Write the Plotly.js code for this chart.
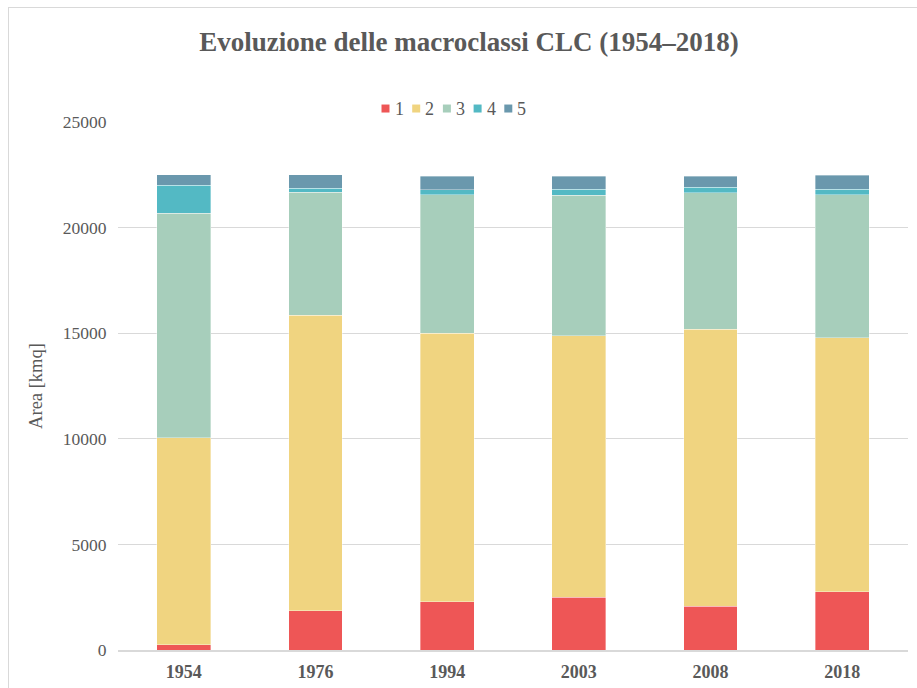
<!DOCTYPE html>
<html>
<head>
<meta charset="utf-8">
<script src="https://cdn.plot.ly/plotly-3.0.1.min.js"></script>
<style>
  html, body { margin: 0; padding: 0; overflow: hidden; background: #ffffff; width: 917px; height: 688px; }
  #frame { position: absolute; left: 8px; top: 7px; width: 920px; height: 700px; border-left: 1px solid #d9d9d9; border-top: 1px solid #d9d9d9; }
  #chart { width: 920px; height: 700px; }
</style>
</head>
<body>
<div id="frame"><div id="chart"></div></div>
<script>
const years = ["1954", "1976", "1994", "2003", "2008", "2018"];
const seriesNames = ["1", "2", "3", "4", "5"];
const class1 = [250, 1870, 2280, 2500, 2080, 2760];
const class2 = [9800, 13970, 12710, 12380, 13100, 12020];
const class3 = [10640, 5830, 6570, 6660, 6460, 6780];
const class4 = [1310, 200, 240, 270, 260, 260];
const class5 = [505, 625, 624, 614, 524, 666];
const colors = ["#EE5656", "#F0D480", "#A7CEBB", "#53B9C4", "#6A98AD"];

const values = [class1, class2, class3, class4, class5];
const traces = values.map((v, i) => ({
  type: "bar",
  name: seriesNames[i],
  x: years,
  y: v,
  marker: { color: colors[i], line: { color: "rgba(255,255,255,0.6)", width: 0.6 } },
  hoverinfo: "skip",
  showlegend: false
}));

const grey = "#595959";
// plot area geometry (px inside the chart div)
const W = 920, H = 700;
const M = { l: 109, r: 21, t: 113.5, b: 57.5 };
const pw = W - M.l - M.r, ph = H - M.t - M.b;
const toPX = px => (px - M.l) / pw;
const toPY = py => 1 - (py - M.t) / ph;

// custom compact legend (squares + labels), as in the reference
const legStart = 376.5, legStep = 30.7, legY = 100, sq = 8;
const shapes = [], annotations = [];
seriesNames.forEach((n, i) => {
  const cx = legStart + legStep * i;
  shapes.push({
    type: "rect", xref: "paper", yref: "paper",
    x0: toPX(cx - sq / 2), x1: toPX(cx + sq / 2),
    y0: toPY(legY + sq / 2), y1: toPY(legY - sq / 2),
    fillcolor: colors[i], line: { width: 0 }
  });
  annotations.push({
    text: n, xref: "paper", yref: "paper",
    x: toPX(cx + sq / 2 + 3), xanchor: "left",
    y: toPY(legY), yanchor: "middle",
    showarrow: false,
    font: { family: "Liberation Serif", size: 18, color: grey }
  });
});

const layout = {
  width: W,
  height: H,
  barmode: "stack",
  bargap: 0.59,
  paper_bgcolor: "#ffffff",
  plot_bgcolor: "#ffffff",
  margin: M,
  title: {
    text: "<b>Evoluzione delle macroclassi CLC (1954–2018)</b>",
    font: { family: "Liberation Serif", size: 27, color: grey },
    x: 0.5, xref: "container", xanchor: "center",
    y: 1 - 34 / H, yref: "container", yanchor: "middle"
  },
  showlegend: false,
  shapes: shapes,
  annotations: annotations,
  xaxis: {
    type: "category",
    tickfont: { family: "Liberation Serif", size: 18, color: grey, weight: "bold" },
    showline: true, linecolor: "#d9d9d9", linewidth: 1.5,
    ticks: "outside", ticklen: 5, tickcolor: "rgba(0,0,0,0)",
    showgrid: false
  },
  yaxis: {
    range: [0, 25000],
    tickvals: [0, 5000, 10000, 15000, 20000, 25000],
    ticktext: ["0", "5000", "10000", "15000", "20000", "25000"],
    tickfont: { family: "Liberation Serif", size: 17.5, color: grey },
    gridcolor: "#d9d9d9", gridwidth: 1,
    zeroline: false,
    ticks: "outside", ticklen: 7, tickcolor: "rgba(0,0,0,0)",
    title: { text: "Area [kmq]", font: { family: "Liberation Serif", size: 18.5, color: grey }, standoff: 15 }
  }
};

Plotly.newPlot("chart", traces, layout, { displayModeBar: false, staticPlot: true });
</script>
</body>
</html>
